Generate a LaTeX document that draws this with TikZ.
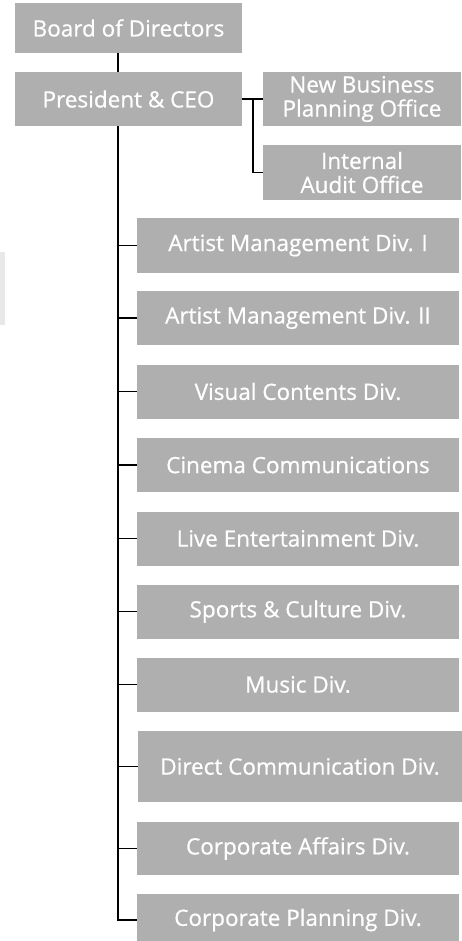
\documentclass[tikz,border=0pt]{standalone}
\usepackage{fontspec}
\setmainfont{Open Sans}
\newfontfamily\boxfont{Open Sans}[FakeBold=0.7]
\definecolor{boxgray}{HTML}{AFAFAF}
\definecolor{ghost}{HTML}{E8E8E8}
\begin{document}
\begin{tikzpicture}[x=1pt,y=-1pt,
  box/.style={rectangle, fill=boxgray, text=white, inner sep=0pt, align=center,
    font=\boxfont\fontsize{22.5}{24}\selectfont},
  divbox/.style={box, minimum width=322pt, minimum height=54pt},
  conn/.style={line width=1.6pt, black}]
\useasboundingbox (0,0) rectangle (462,941);
\fill[white] (0,0) rectangle (462,941);
\fill[ghost] (0,252) rectangle (5,325);

\node[box, minimum width=227pt, minimum height=50pt] (board) at (128.5,28) {Board of Directors};
\node[box, minimum width=227pt, minimum height=54pt] (ceo) at (128.5,99) {President \& CEO};
\node[box, minimum width=198pt, minimum height=54pt] (nbpo) at (362,99) {New Business\\Planning Office};
\node[box, minimum width=198pt, minimum height=55pt] (audit) at (362,172.5) {Internal\\Audit Office};

\node[divbox] (am1) at (298,245.5) {Artist Management Div. I};
\node[divbox] (am2) at (298,318) {Artist Management Div. II};
\node[divbox] (vis) at (298,391.5) {Visual Contents Div.};
\node[divbox] (cin) at (298,465) {Cinema Communications};
\node[divbox] (live) at (298,538.5) {Live Entertainment Div.};
\node[divbox] (spo) at (298,611.5) {Sports \& Culture Div.};
\node[divbox] (mus) at (298,684.5) {Music Div.};
\node[box, minimum width=324pt, minimum height=71pt] (dir) at (300,766.5) {Direct Communication Div.};
\node[divbox, minimum height=53pt] (aff) at (298,848.5) {Corporate Affairs Div.};
\node[divbox, minimum height=52pt] (pla) at (298,920) {Corporate Planning Div.};

\coordinate (spine) at (118,0);
\coordinate (bend) at (253,0);
\draw[conn] (board.south -| spine) -- (ceo.north -| spine);
\draw[conn] (ceo.south -| spine) -- (pla.west -| spine) -- (pla.west);
\foreach \n in {am1,am2,vis,cin,live,spo,mus,dir,aff}
  \draw[conn] (\n.west -| spine) -- (\n.west);
\draw[conn] (ceo.east) -- (nbpo.west);
\draw[conn] (ceo.east -| bend) -- (audit.west -| bend) -- (audit.west);
\end{tikzpicture}
\end{document}
